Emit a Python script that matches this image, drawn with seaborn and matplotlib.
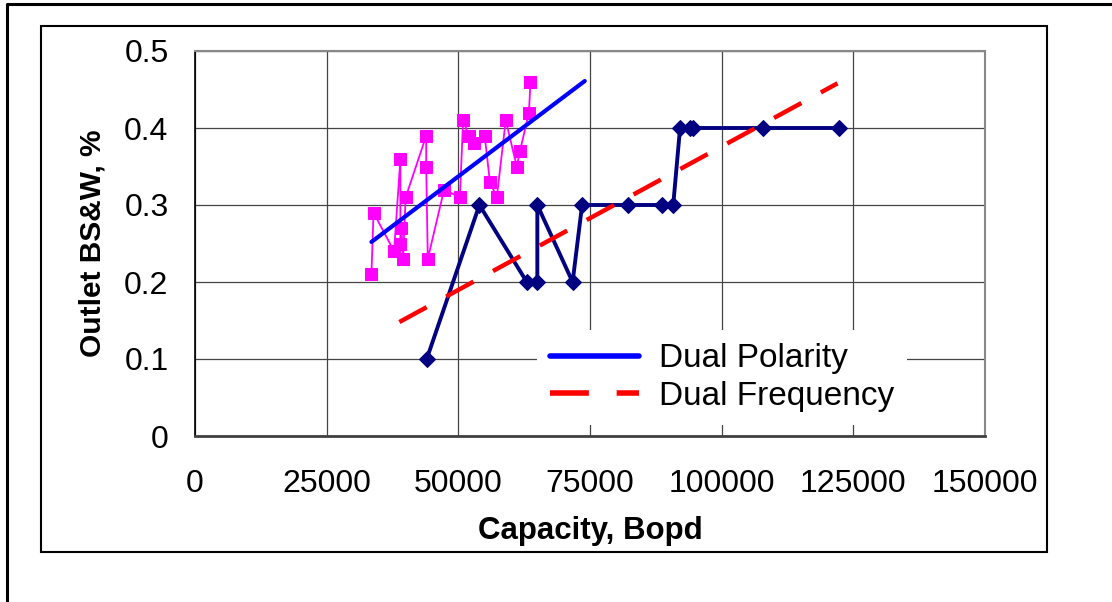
import matplotlib
matplotlib.use("Agg")
import matplotlib.pyplot as plt
from matplotlib.patches import Rectangle
from matplotlib.lines import Line2D
import pandas as pd
import seaborn as sns

# pink test points (connected in recorded order)
pink_x = [33500, 33900, 37800, 39000, 39000, 39200, 39500, 40000, 43900, 43900,
          44200, 47300, 50300, 50900, 52000, 53000, 55000, 56000, 57300, 59000,
          61100, 61700, 63400, 63700]
pink_y = [0.21, 0.29, 0.24, 0.36, 0.25, 0.27, 0.23, 0.31, 0.39, 0.35,
          0.23, 0.32, 0.31, 0.41, 0.39, 0.38, 0.39, 0.33, 0.31, 0.41,
          0.35, 0.37, 0.42, 0.46]

# navy test points
navy_x = [44000, 54000, 63000, 65000, 65000, 71700, 73500, 82300, 88700, 90800,
          92100, 94000, 94600, 107800, 122200]
navy_y = [0.1, 0.3, 0.2, 0.2, 0.3, 0.2, 0.3, 0.3, 0.3, 0.3,
          0.4, 0.4, 0.4, 0.4, 0.4]

# trend lines (end points)
pol_x = [33500, 74000]
pol_y = [0.252, 0.461]
freq_x = [38800, 122000]
freq_y = [0.148, 0.458]

x_ticks = [0, 25000, 50000, 75000, 100000, 125000, 150000]
y_ticks = [0, 0.1, 0.2, 0.3, 0.4, 0.5]

sns.set_style("white")
plt.rcParams['font.family'] = ['Liberation Sans', 'DejaVu Sans']
plt.rcParams['text.color'] = 'black'
plt.rcParams['axes.labelcolor'] = 'black'
plt.rcParams['xtick.color'] = 'black'
plt.rcParams['ytick.color'] = 'black'

fig = plt.figure(figsize=(11.12, 6.02), dpi=100)
ax = fig.add_axes([195 / 1112, 1 - 436 / 602, 790 / 1112, 385 / 602])

pink = pd.DataFrame({'x': pink_x, 'y': pink_y})
navy = pd.DataFrame({'x': navy_x, 'y': navy_y})

sns.lineplot(data=pink, x='x', y='y', sort=False, estimator=None, ax=ax,
             color='#FF00FF', lw=1.3, marker='s', markersize=8.5,
             markeredgecolor='#FF00FF')
sns.lineplot(data=navy, x='x', y='y', sort=False, estimator=None, ax=ax,
             color='#000080', lw=2.8, marker='D', markersize=8,
             markeredgecolor='#000080')
sns.lineplot(x=pol_x, y=pol_y, ax=ax, color='#0000FF', lw=3)
sns.lineplot(x=freq_x, y=freq_y, ax=ax, color='#FF0000', lw=3.2,
             dashes=False, linestyle=(0, (7, 5)))

ax.set_xlim(0, 150000)
ax.set_ylim(0, 0.5)
ax.set_xticks(x_ticks)
ax.set_xticklabels([str(v) for v in x_ticks])
ax.set_yticks(y_ticks)
ax.set_yticklabels(['0', '0.1', '0.2', '0.3', '0.4', '0.5'])
ax.tick_params(axis='both', labelsize=23, direction='out', length=8,
               width=1, color='black', labelcolor='black')
ax.tick_params(axis='x', pad=16)
ax.tick_params(axis='y', pad=11)
ax.grid(True, color='#444444', lw=0.9)
ax.set_axisbelow(True)

for side in ['top', 'right']:
    ax.spines[side].set_color('#888888')
    ax.spines[side].set_linewidth(1.5)
ax.spines['left'].set_color('black')
ax.spines['bottom'].set_color('#404040')
ax.spines['left'].set_linewidth(1.2)
ax.spines['bottom'].set_linewidth(2)

ax.set_xlabel('Capacity, Bopd', fontsize=22.5, fontweight='bold', labelpad=12,
              color='black')
ax.set_ylabel('Outlet BS&W, %', fontsize=21.5, fontweight='bold', labelpad=13,
              color='black')

handles = [Line2D([], [], color='#0000FF', lw=4),
           Line2D([], [], color='#FF0000', lw=4, linestyle=(0, (7, 5)))]
leg = ax.legend(handles, ['Dual Polarity', 'Dual Frequency'], loc='upper left',
                bbox_to_anchor=(0.433, 0.275), borderaxespad=0, fontsize=24,
                handlelength=2.65, handletextpad=0.6, labelspacing=0.2,
                borderpad=0.4, frameon=True, fancybox=False,
                framealpha=1, facecolor='white', edgecolor='none')
for t in leg.get_texts():
    t.set_color('black')

# chart frames
fig.patches.append(Rectangle((41 / 1112, 1 - 552 / 602), 1006 / 1112, 526 / 602,
                             transform=fig.transFigure, fill=False,
                             edgecolor='black', lw=1.5, zorder=0))
fig.lines.append(Line2D([7 / 1112, 7 / 1112, 1], [0, 1 - 4 / 602, 1 - 4 / 602],
                        transform=fig.transFigure, color='black', lw=2.2))

fig.savefig('out.png', dpi=100)
